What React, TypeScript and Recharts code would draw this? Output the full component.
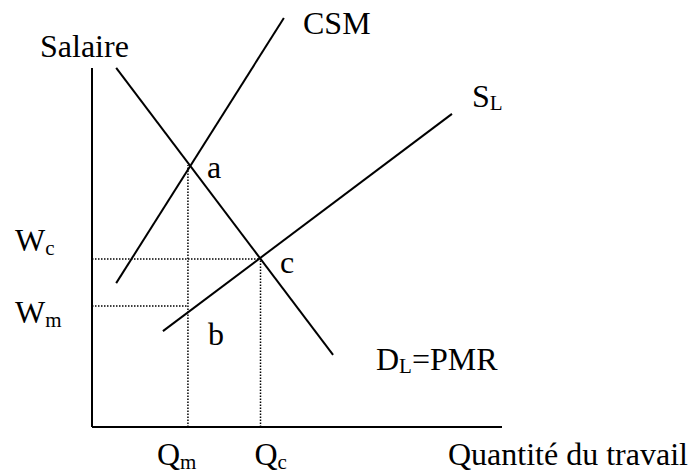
import { Line, LineChart, ReferenceLine, XAxis, YAxis } from "recharts"

// curve endpoints (quantity, wage)
const csmCurve = [{ x: 5.9, y: 34.5 }, { x: 46.8, y: 98.1 }]
const demandCurve = [{ x: 5.9, y: 86.1 }, { x: 58.8, y: 17.3 }]
const supplyCurve = [{ x: 17.3, y: 23.0 }, { x: 87.8, y: 75.1 }]

const pointA = { x: 23.4, y: 62.8 }
const pointC = { x: 41.1, y: 40.3 }
const wageMonopsony = 29.0
const wageAxisTop = 86.1

const quantityTicks = [pointA.x, pointC.x]
const quantitySubs = ["m", "c"]
const wageTicks = [wageMonopsony, pointC.y]
const wageSubs = ["m", "c"]

const FONT = "'Liberation Serif', 'Times New Roman', serif"
const BIG = 32
const SMALL = 21

function QuantityTick(props: any) {
  const { x, y, index } = props
  const dx = index === 0 ? -31 : -6
  return (
    <text x={x + dx} y={y + 38} fontFamily={FONT} fontSize={BIG} fill="#000">
      Q<tspan fontSize={SMALL} dy={4}>{quantitySubs[index]}</tspan>
    </text>
  )
}

function WageTick(props: any) {
  const { x, y, index } = props
  const dy = index === 0 ? 17 : -8
  return (
    <text x={x - 77} y={y + dy} fontFamily={FONT} fontSize={BIG} fill="#000">
      W<tspan fontSize={SMALL} dy={4}>{wageSubs[index]}</tspan>
    </text>
  )
}

const dotted = { stroke: "#000", strokeWidth: 1.5, strokeDasharray: "1.5 1.5" }

export default function App() {
  return (
    <div style={{ position: "absolute", left: 0, top: 0, background: "#fff" }}>
      <LineChart width={691} height={475} margin={{ top: 10, right: 189, bottom: 8, left: 12 }}>
        <XAxis
          type="number"
          dataKey="x"
          domain={[0, 100]}
          ticks={quantityTicks}
          tick={<QuantityTick />}
          tickLine={false}
          tickSize={0}
          tickMargin={0}
          height={40}
          axisLine={{ stroke: "#000", strokeWidth: 2 }}
          allowDataOverflow
        />
        <YAxis
          type="number"
          domain={[0, 100]}
          ticks={wageTicks}
          tick={<WageTick />}
          tickLine={false}
          tickSize={0}
          tickMargin={0}
          axisLine={false}
          width={80}
          allowDataOverflow
        />

        <ReferenceLine segment={[{ x: 0, y: 0 }, { x: 0, y: wageAxisTop }]} stroke="#000" strokeWidth={2} ifOverflow="visible" />

        <ReferenceLine segment={[{ x: 0, y: pointC.y }, { x: pointC.x, y: pointC.y }]} {...dotted} ifOverflow="visible" />
        <ReferenceLine segment={[{ x: 0, y: wageMonopsony }, { x: pointA.x, y: wageMonopsony }]} {...dotted} ifOverflow="visible" />
        <ReferenceLine segment={[{ x: pointA.x, y: 0 }, { x: pointA.x, y: pointA.y }]} {...dotted} ifOverflow="visible" />
        <ReferenceLine segment={[{ x: pointC.x, y: 0 }, { x: pointC.x, y: pointC.y }]} {...dotted} ifOverflow="visible" />

        <Line data={csmCurve} dataKey="y" type="linear" stroke="#000" strokeWidth={2} dot={false} isAnimationActive={false} />
        <Line data={demandCurve} dataKey="y" type="linear" stroke="#000" strokeWidth={2} dot={false} isAnimationActive={false} />
        <Line data={supplyCurve} dataKey="y" type="linear" stroke="#000" strokeWidth={2} dot={false} isAnimationActive={false} />

        <g fontFamily={FONT} fontSize={BIG} fill="#000">
          <text x={40} y={57}>Salaire</text>
          <text x={303} y={34}>CSM</text>
          <text x={472} y={107}>S<tspan fontSize={SMALL} dy={3}>L</tspan></text>
          <text x={376} y={370}>D<tspan fontSize={SMALL} dy={3}>L</tspan><tspan dy={-3}>=PMR</tspan></text>
          <text x={207} y={178}>a</text>
          <text x={208} y={345}>b</text>
          <text x={280} y={273}>c</text>
          <text x={448} y={465}>Quantité du travail</text>
        </g>
      </LineChart>
    </div>
  )
}
